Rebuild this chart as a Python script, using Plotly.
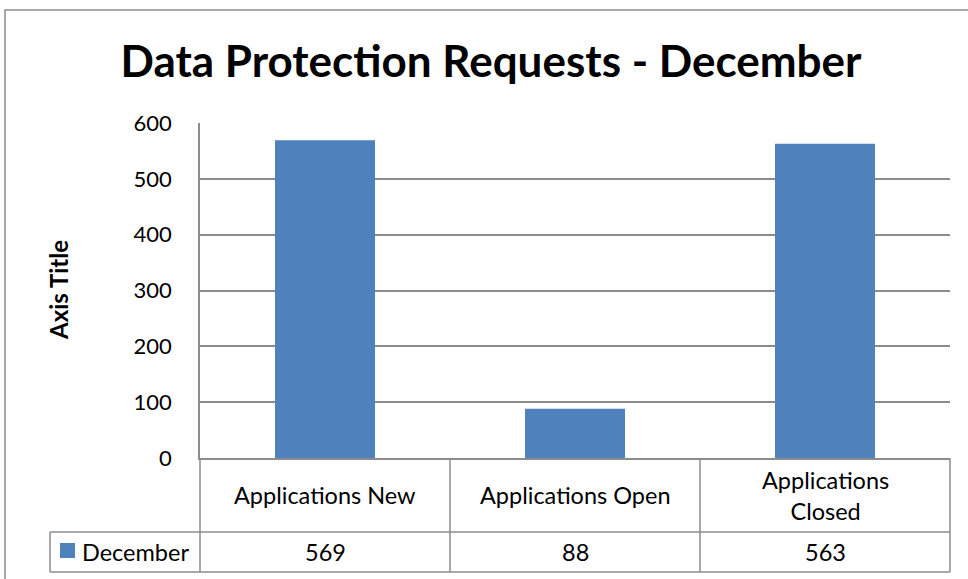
import plotly.graph_objects as go

categories = ["Applications New", "Applications Open", "Applications Closed"]
category_labels = ["Applications New", "Applications Open", "Applications<br>Closed"]
series_name = "December"
values = [569, 88, 563]
y_ticks = [0, 100, 200, 300, 400, 500, 600]

FONT = "Lato, 'Noto Sans', sans-serif"
BAR = "#4F81BD"
GRID = "#8C8C8C"

# plot area in pixels
L, R, T, B = 200, 950, 123, 458
W, H = 968, 579
pw, ph = R - L, B - T

def px_x(p):
    return (p - L) / pw

def px_y(p):
    return (B - p) / ph

fig = go.Figure()
fig.add_trace(go.Bar(x=categories, y=values, name=series_name,
                     marker=dict(color=BAR, line=dict(width=0)),
                     showlegend=False, hoverinfo="x+y"))

shapes = []
line = dict(color=GRID, width=1.5)
# outer chart border
shapes.append(dict(type="rect", xref="paper", yref="paper",
                   x0=px_x(5), x1=px_x(990), y0=px_y(600), y1=px_y(10),
                   line=dict(color=GRID, width=1.5), fillcolor="rgba(0,0,0,0)", layer="below"))
# table horizontal lines
row1 = 532
row2 = 572
shapes.append(dict(type="line", xref="paper", yref="paper", x0=px_x(50), x1=px_x(950),
                   y0=px_y(row1), y1=px_y(row1), line=line))
shapes.append(dict(type="line", xref="paper", yref="paper", x0=px_x(50), x1=px_x(950),
                   y0=px_y(row2), y1=px_y(row2), line=line))
shapes.append(dict(type="line", xref="paper", yref="paper", x0=px_x(50), x1=px_x(50),
                   y0=px_y(row1), y1=px_y(row2), line=line))
for xp in [200, 450, 700, 950]:
    shapes.append(dict(type="line", xref="paper", yref="paper", x0=px_x(xp), x1=px_x(xp),
                       y0=px_y(B), y1=px_y(row2), line=line))
# legend key square
shapes.append(dict(type="rect", xref="paper", yref="paper",
                   x0=px_x(60), x1=px_x(75), y0=px_y(558), y1=px_y(543),
                   fillcolor=BAR, line=dict(width=0)))

TS = 23.5
annotations = []
for i, (lab, v) in enumerate(zip(category_labels, values)):
    annotations.append(dict(x=categories[i], xref="x", y=px_y(495), yref="paper",
                            text=lab, showarrow=False, yanchor="middle",
                            font=dict(family=FONT, size=TS, color="black")))
    annotations.append(dict(x=categories[i], xref="x", y=px_y(552), yref="paper",
                            text=str(v), showarrow=False, yanchor="middle",
                            font=dict(family=FONT, size=TS, color="black")))
annotations.append(dict(x=px_x(80), xref="paper", y=px_y(552), yref="paper",
                        text=series_name, showarrow=False, xanchor="left", yanchor="middle",
                        font=dict(family=FONT, size=TS, color="black")))
annotations.append(dict(x=px_x(58), xref="paper", y=px_y(290), yref="paper",
                        text="<b>Axis Title</b>", showarrow=False, textangle=-90,
                        xanchor="center", yanchor="middle",
                        font=dict(family=FONT, size=24, color="black")))

fig.update_layout(
    width=W, height=H,
    margin=dict(l=L, r=W - R, t=T, b=H - B, pad=0),
    paper_bgcolor="white", plot_bgcolor="white",
    bargap=0.6,
    title=dict(text="<b>Data Protection Requests - December</b>",
               x=491 / W, xanchor="center", xref="container",
               y=1 - 62 / H, yanchor="middle", yref="container",
               font=dict(family=FONT, size=44, color="black")),
    font=dict(family=FONT, size=22, color="black"),
    shapes=shapes, annotations=annotations,
    xaxis=dict(showticklabels=False, showgrid=False, zeroline=False,
               showline=True, linecolor=GRID, linewidth=1.5, ticks="",
               range=[-0.5, 2.5], fixedrange=True),
    yaxis=dict(range=[0, 600], tickvals=y_ticks, showgrid=True, gridcolor=GRID,
               gridwidth=1.5, zeroline=False, showline=True, linecolor=GRID,
               linewidth=1.5, ticks="", ticklabelstandoff=22,
               tickfont=dict(family=FONT, size=22, color="black"), fixedrange=True),
)

fig.write_html("out.html", config={"displayModeBar": False},
               post_script="document.body.style.margin='0';document.body.style.overflow='hidden';")
